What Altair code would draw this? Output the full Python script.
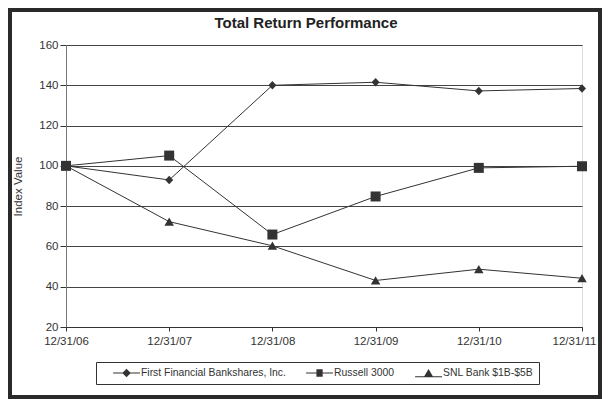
import altair as alt
import pandas as pd

dates = ["12/31/06", "12/31/07", "12/31/08", "12/31/09", "12/31/10", "12/31/11"]
series = ["First Financial Bankshares, Inc.", "Russell 3000", "SNL Bank $1B-$5B"]
ffin = [100.0, 93.0, 140.0, 141.5, 137.2, 138.4]
russell = [100.0, 105.1, 65.9, 84.8, 99.0, 99.8]
snl = [100.0, 72.3, 60.3, 43.1, 48.7, 44.2]
y_ticks = [20, 40, 60, 80, 100, 120, 140, 160]

# draw order: diamonds, triangles, then squares on top
rows = []
for name, vals in [(series[0], ffin), (series[2], snl), (series[1], russell)]:
    for d, v in zip(dates, vals):
        rows.append({"date": d, "series": name, "value": v})
df = pd.DataFrame(rows)

INK = "#333333"
FONT = "Liberation Sans"

# marker shapes (unit square paths)
pt_shapes = [
    "M0,-0.85L0.8,0L0,0.85L-0.8,0Z",
    "M-1,-1H1V1H-1Z",
    "M0,-0.85L0.95,0.8L-0.95,0.8Z",
]
# legend symbols: thin filled bar (the line) plus the marker
lg_shapes = [
    "M-0.38,-0.026H1V0.026H-0.38ZM0.31,-0.22L0.53,0L0.31,0.22L0.09,0Z",
    "M-0.38,-0.026H1V0.026H-0.38ZM0.15,-0.19H0.47V0.19H0.15Z",
    "M-0.38,0.17H1V0.22H-0.38ZM0.31,-0.2L0.56,0.22L0.06,0.22Z",
]

x_enc = alt.X(
    "date:N", sort=dates, title=None,
    scale=alt.Scale(type="point", padding=0),
    axis=alt.Axis(labelAngle=0, labelFont=FONT, labelFontSize=11.5, labelColor=INK,
                  labelPadding=4, tickSize=4, tickColor=INK, domainColor=INK,
                  grid=False, labelOverlap=False, zindex=1,
                  labelOffset={"condition": {"test": f"datum.value == '{dates[-1]}'", "value": -8},
                               "value": 0}),
)
y_enc = alt.Y(
    "value:Q", title="Index Value",
    scale=alt.Scale(domain=[20, 160], nice=False, zero=False),
    axis=alt.Axis(values=y_ticks, labelFont=FONT, labelFontSize=11.5, labelColor=INK,
                  labelPadding=2, tickSize=6, tickColor=INK, domainColor="#777",
                  gridColor="#444", gridWidth=1, grid=True,
                  titleFont=FONT, titleFontSize=11.5, titleFontWeight="normal",
                  titleColor=INK, titleX=-48, titleY=141, titleBaseline="middle"),
)

base = alt.Chart(df).encode(x=x_enc, y=y_enc)

lines = base.mark_line(color=INK, strokeWidth=1).encode(detail="series:N")

points = base.mark_point(filled=True, color=INK, size=100, opacity=1).encode(
    shape=alt.Shape("series:N", scale=alt.Scale(domain=series, range=pt_shapes), legend=None)
)

legend_layer = base.mark_point(filled=True, color=INK).encode(
    shape=alt.Shape(
        "series:N",
        scale=alt.Scale(domain=series, range=lg_shapes),
        legend=alt.Legend(
            title=None, orient="none", legendX=30, legendY=317, direction="horizontal",
            columns=3, symbolSize=1521, clipHeight=12, labelOffset=1,
            columnPadding=8, padding=5, strokeColor=INK, fillColor="white",
            labelFont=FONT, labelFontSize=10.4, labelColor=INK,
            symbolFillColor=INK, symbolStrokeWidth=0, symbolOpacity=1,
        ),
    )
).transform_filter("false")

frame = alt.Chart(alt.Data(values=[{"k": 1}])).mark_rect(
    fillOpacity=0, stroke="#2a2a2a", strokeWidth=4
).encode(
    x=alt.value(-56), x2=alt.value(534), y=alt.value(-35), y2=alt.value(352)
)

chart = alt.layer(lines, points, legend_layer, frame).resolve_scale(
    shape="independent"
).resolve_legend(shape="independent").properties(
    width=516, height=282,
    title=alt.TitleParams("Total Return Performance", font=FONT, fontSize=15,
                          fontWeight="bold", color="#222", offset=0, dy=23, dx=-18,
                          frame="group", anchor="middle"),
    autosize=alt.AutoSizeParams(type="none"),
    padding={"left": 58, "top": 37, "right": 20, "bottom": 72},
).configure_view(stroke="#666", strokeWidth=1).configure(background="white")

chart.save("out.html", embed_options={"renderer": "svg", "actions": False})
